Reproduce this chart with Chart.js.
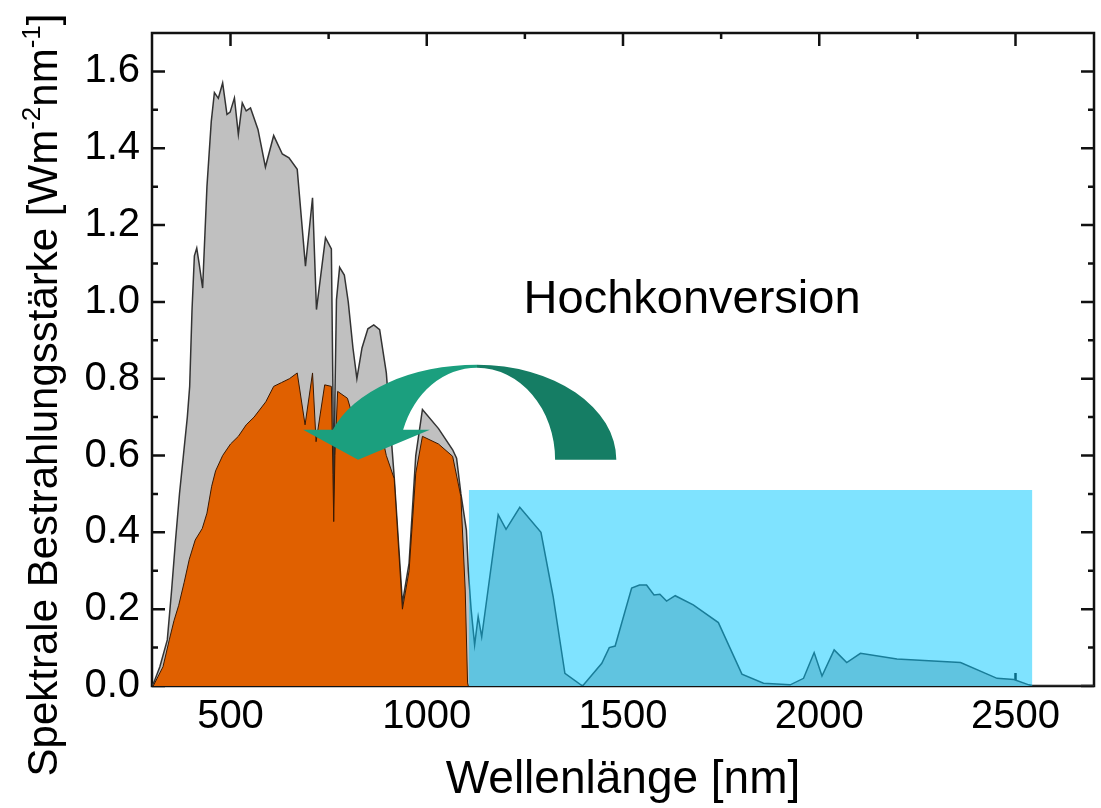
<!DOCTYPE html>
<html lang="de">
<head>
<meta charset="UTF-8">
<title>Spektrale Bestrahlungsstärke</title>
<script src="https://cdn.jsdelivr.net/npm/chart.js"></script>
<style>
  html, body { margin: 0; padding: 0; background: #fff; }
</style>
</head>
<body>
<canvas id="chart" width="1101" height="808"></canvas>
<script>
// AM1.5 Sonnenspektrum (nm / W m^-2 nm^-1)
const wavelength = [300, 305, 320, 339, 350, 360, 370, 380, 390, 396, 402, 408, 414, 420, 429, 440, 451, 459, 469, 480, 491,
  499, 510, 520, 530, 540, 551, 570, 589, 610, 632, 649, 670, 691, 709, 719, 742, 757, 761, 763, 766,
  770, 778, 790, 800, 812, 822, 835, 850, 865, 880, 897, 917, 938, 955, 972, 989, 1030, 1066, 1076, 1087,
  1101, 1106, 1113, 1122, 1131, 1140, 1182, 1202, 1237, 1291, 1322, 1352, 1397, 1446, 1465, 1480, 1522, 1542, 1560, 1579,
  1594, 1611, 1633, 1679, 1743, 1803, 1858, 1926, 1960, 1987, 2007, 2038, 2070, 2105, 2198, 2360, 2453, 2496, 2534, 2545, 2700];
const irradiance = [0, 0.01, 0.05, 0.12, 0.25, 0.38, 0.5, 0.6, 0.7, 0.78, 0.98, 1.12, 1.14, 1.1, 1.036, 1.3, 1.47, 1.545, 1.53, 1.57, 1.488,
  1.494, 1.531, 1.436, 1.518, 1.497, 1.505, 1.449, 1.351, 1.433, 1.385, 1.375, 1.345, 1.093, 1.271, 0.98, 1.167, 1.138, 0.77, 0.43, 0.75,
  1.006, 1.09, 1.07, 1.0, 0.88, 0.8, 0.88, 0.93, 0.94, 0.928, 0.815, 0.545, 0.216, 0.32, 0.6, 0.72, 0.67, 0.615, 0.593, 0.5,
  0.406, 0.3, 0.2, 0.107, 0.181, 0.128, 0.446, 0.408, 0.465, 0.4, 0.233, 0.033, 0, 0.059, 0.1, 0.104, 0.255, 0.263, 0.263, 0.237,
  0.239, 0.221, 0.235, 0.211, 0.165, 0.031, 0.007, 0.003, 0.02, 0.087, 0.026, 0.094, 0.061, 0.085, 0.07, 0.061, 0.02, 0.017, 0.003, 0, 0];

// Anteil, den die Si-Zelle nutzt
const siWavelength = [300, 303, 328, 344, 356, 368, 382, 395, 410, 428, 440, 452, 462, 480, 500, 520, 540, 560, 590, 610,
  630, 650, 670, 690, 709, 718, 740, 757, 761, 763, 766, 773, 798, 812, 823, 835, 850, 865, 880, 897,
  917, 938, 955, 972, 989, 1030, 1066, 1087, 1098, 1104, 1106];
const siIrradiance = [0, 0, 0.05, 0.12, 0.17, 0.21, 0.27, 0.33, 0.38, 0.41, 0.45, 0.52, 0.56, 0.6, 0.63, 0.65, 0.68, 0.7, 0.74, 0.78,
  0.79, 0.8, 0.815, 0.68, 0.815, 0.636, 0.784, 0.78, 0.55, 0.428, 0.6, 0.767, 0.749, 0.7, 0.6, 0.66, 0.7, 0.7, 0.68, 0.6,
  0.54, 0.2, 0.3, 0.554, 0.65, 0.63, 0.598, 0.493, 0.25, 0.008, 0];

// Bereich unterhalb der Bandlücke (Hochkonversion)
const upconvRange = [1107, 2543];
const upconvLevel = 0.51;

const xMajorTicks = [500, 1000, 1500, 2000, 2500];
const xMinorTicks = [750, 1250, 1750, 2250];
const yMajorTicks = [0, 0.2, 0.4, 0.6, 0.8, 1.0, 1.2, 1.4, 1.6];
const yMinorTicks = [0.1, 0.3, 0.5, 0.7, 0.9, 1.1, 1.3, 1.5];

const FONT = '"Liberation Sans", Arial, sans-serif';

function points(xs, ys) {
  return xs.map((x, i) => ({ x: x, y: ys[i] }));
}

// Rahmen und Ticks nach innen (liegen unter den Flächen)
const framePlugin = {
  id: 'frame',
  beforeDatasetsDraw(chart) {
    const { ctx, chartArea: a, scales } = chart;
    const major = 13, minor = 6;
    ctx.save();
    ctx.strokeStyle = '#111';
    ctx.lineWidth = 2.5;
    ctx.beginPath();
    const xt = (v, len) => {
      const p = scales.x.getPixelForValue(v);
      ctx.moveTo(p, a.top); ctx.lineTo(p, a.top + len);
      ctx.moveTo(p, a.bottom); ctx.lineTo(p, a.bottom - len);
    };
    const yt = (v, len) => {
      const p = scales.y.getPixelForValue(v);
      ctx.moveTo(a.left, p); ctx.lineTo(a.left + len, p);
      ctx.moveTo(a.right, p); ctx.lineTo(a.right - len, p);
    };
    xMajorTicks.forEach(v => xt(v, major));
    xMinorTicks.forEach(v => xt(v, minor));
    yMajorTicks.forEach(v => yt(v, major));
    yMinorTicks.forEach(v => yt(v, minor));
    ctx.stroke();
    ctx.strokeRect(a.left, a.top, a.right - a.left, a.bottom - a.top);
    ctx.restore();
  }
};

// gebogener Pfeil, Beschriftung und y-Achsentitel mit Hochstellung
const overlayPlugin = {
  id: 'overlay',
  afterDatasetsDraw(chart) {
    const { ctx, scales } = chart;
    const X = v => scales.x.getPixelForValue(v);
    const Y = v => scales.y.getPixelForValue(v);

    // Pfeilgeometrie in Datenkoordinaten
    const ar = { cx: 1128, cy: 0.589, backOut: 355, backIn: 199, frontOut: 387, frontIn: 199,
      rOut: 0.2476, rIn: 0.2397, headY: 0.667, headLeft: 685, headRight: 1008, tipX: 825 };
    const cx = X(ar.cx), cy = Y(ar.cy);
    const rx = nm => X(ar.cx + nm) - cx;
    const ryOut = cy - Y(ar.cy + ar.rOut), ryIn = cy - Y(ar.cy + ar.rIn);

    ctx.save();
    ctx.fillStyle = '#157d64';
    ctx.beginPath();
    ctx.ellipse(cx, cy, rx(ar.backOut), ryOut, 0, -Math.PI / 2, 0, false);
    ctx.lineTo(cx + rx(ar.backIn), cy);
    ctx.ellipse(cx, cy, rx(ar.backIn), ryIn, 0, 0, -Math.PI / 2, true);
    ctx.closePath();
    ctx.fill();

    const hy = Y(ar.headY);
    const tO = -Math.PI + Math.asin((cy - hy) / ryOut);
    const tI = -Math.PI + Math.asin((cy - hy) / ryIn);
    ctx.fillStyle = '#1b9f7e';
    ctx.beginPath();
    ctx.ellipse(cx, cy, rx(ar.frontOut), ryOut, 0, -Math.PI / 2, tO, true);
    ctx.lineTo(X(ar.headLeft), hy);
    ctx.lineTo(X(ar.tipX), cy);
    ctx.lineTo(X(ar.headRight), hy);
    ctx.lineTo(cx + rx(ar.frontIn) * Math.cos(tI), hy);
    ctx.ellipse(cx, cy, rx(ar.frontIn), ryIn, 0, tI, -Math.PI / 2, false);
    ctx.closePath();
    ctx.fill();

    ctx.fillStyle = '#000';
    ctx.font = '47px ' + FONT;
    ctx.textAlign = 'center';
    ctx.textBaseline = 'middle';
    ctx.fillText('Hochkonversion', X(1676), Y(1.006));
    ctx.restore();
  },
  afterDraw(chart) {
    const ctx = chart.ctx;
    const big = '42px ' + FONT, small = '26px ' + FONT;
    const parts = [
      { t: 'Spektrale Bestrahlungsstärke [Wm', f: big, dy: 0 },
      { t: '-2', f: small, dy: -17 },
      { t: 'nm', f: big, dy: 0 },
      { t: '-1', f: small, dy: -17 },
      { t: ']', f: big, dy: 0 }
    ];
    ctx.save();
    let total = 0;
    parts.forEach(p => { ctx.font = p.f; p.w = ctx.measureText(p.t).width; total += p.w; });
    ctx.translate(57, 395);
    ctx.rotate(-Math.PI / 2);
    ctx.fillStyle = '#000';
    ctx.textBaseline = 'alphabetic';
    ctx.textAlign = 'left';
    let x = -total / 2;
    parts.forEach(p => { ctx.font = p.f; ctx.fillText(p.t, x, p.dy); x += p.w; });
    ctx.restore();
  }
};

new Chart(document.getElementById('chart'), {
  type: 'line',
  data: {
    datasets: [
      {
        label: 'Hochkonversion',
        data: points(upconvRange, [upconvLevel, upconvLevel]),
        fill: 'origin',
        backgroundColor: 'rgba(0, 200, 255, 0.5)',
        borderWidth: 0,
        pointRadius: 0,
        order: 1
      },
      {
        label: 'Si',
        data: points(siWavelength, siIrradiance),
        fill: 'origin',
        backgroundColor: '#e06000',
        borderColor: '#3a1800',
        borderWidth: 1,
        pointRadius: 0,
        order: 2
      },
      {
        label: 'AM1.5',
        data: points(wavelength, irradiance),
        fill: 'origin',
        backgroundColor: '#c0c0c0',
        borderColor: '#333',
        borderWidth: 1.5,
        pointRadius: 0,
        order: 3
      }
    ]
  },
  options: {
    responsive: false,
    animation: false,
    devicePixelRatio: 1,
    layout: { padding: { top: 33, right: 7, left: 0, bottom: 0 } },
    plugins: { legend: { display: false }, tooltip: { enabled: false } },
    scales: {
      x: {
        type: 'linear',
        min: 300,
        max: 2700,
        afterBuildTicks: s => { s.ticks = xMajorTicks.map(v => ({ value: v })); },
        afterFit: s => { s.height = 122; },
        grid: { display: false, drawTicks: false },
        border: { display: false },
        ticks: {
          autoSkip: false, maxRotation: 0, padding: 11, color: '#000',
          font: { family: FONT, size: 40, lineHeight: 1 },
          callback: v => String(v)
        },
        title: {
          display: true, text: 'Wellenlänge [nm]', color: '#000',
          font: { family: FONT, size: 46, lineHeight: 1 },
          padding: { top: 0, bottom: 5 }
        }
      },
      y: {
        min: 0,
        max: 1.7,
        afterBuildTicks: s => { s.ticks = yMajorTicks.map(v => ({ value: v })); },
        afterFit: s => { s.width = 152; },
        grid: { display: false, drawTicks: false },
        border: { display: false },
        ticks: {
          padding: 12, color: '#000',
          font: { family: FONT, size: 40, lineHeight: 1 },
          callback: v => v.toFixed(1)
        }
      }
    }
  },
  plugins: [framePlugin, overlayPlugin]
});
</script>
</body>
</html>
